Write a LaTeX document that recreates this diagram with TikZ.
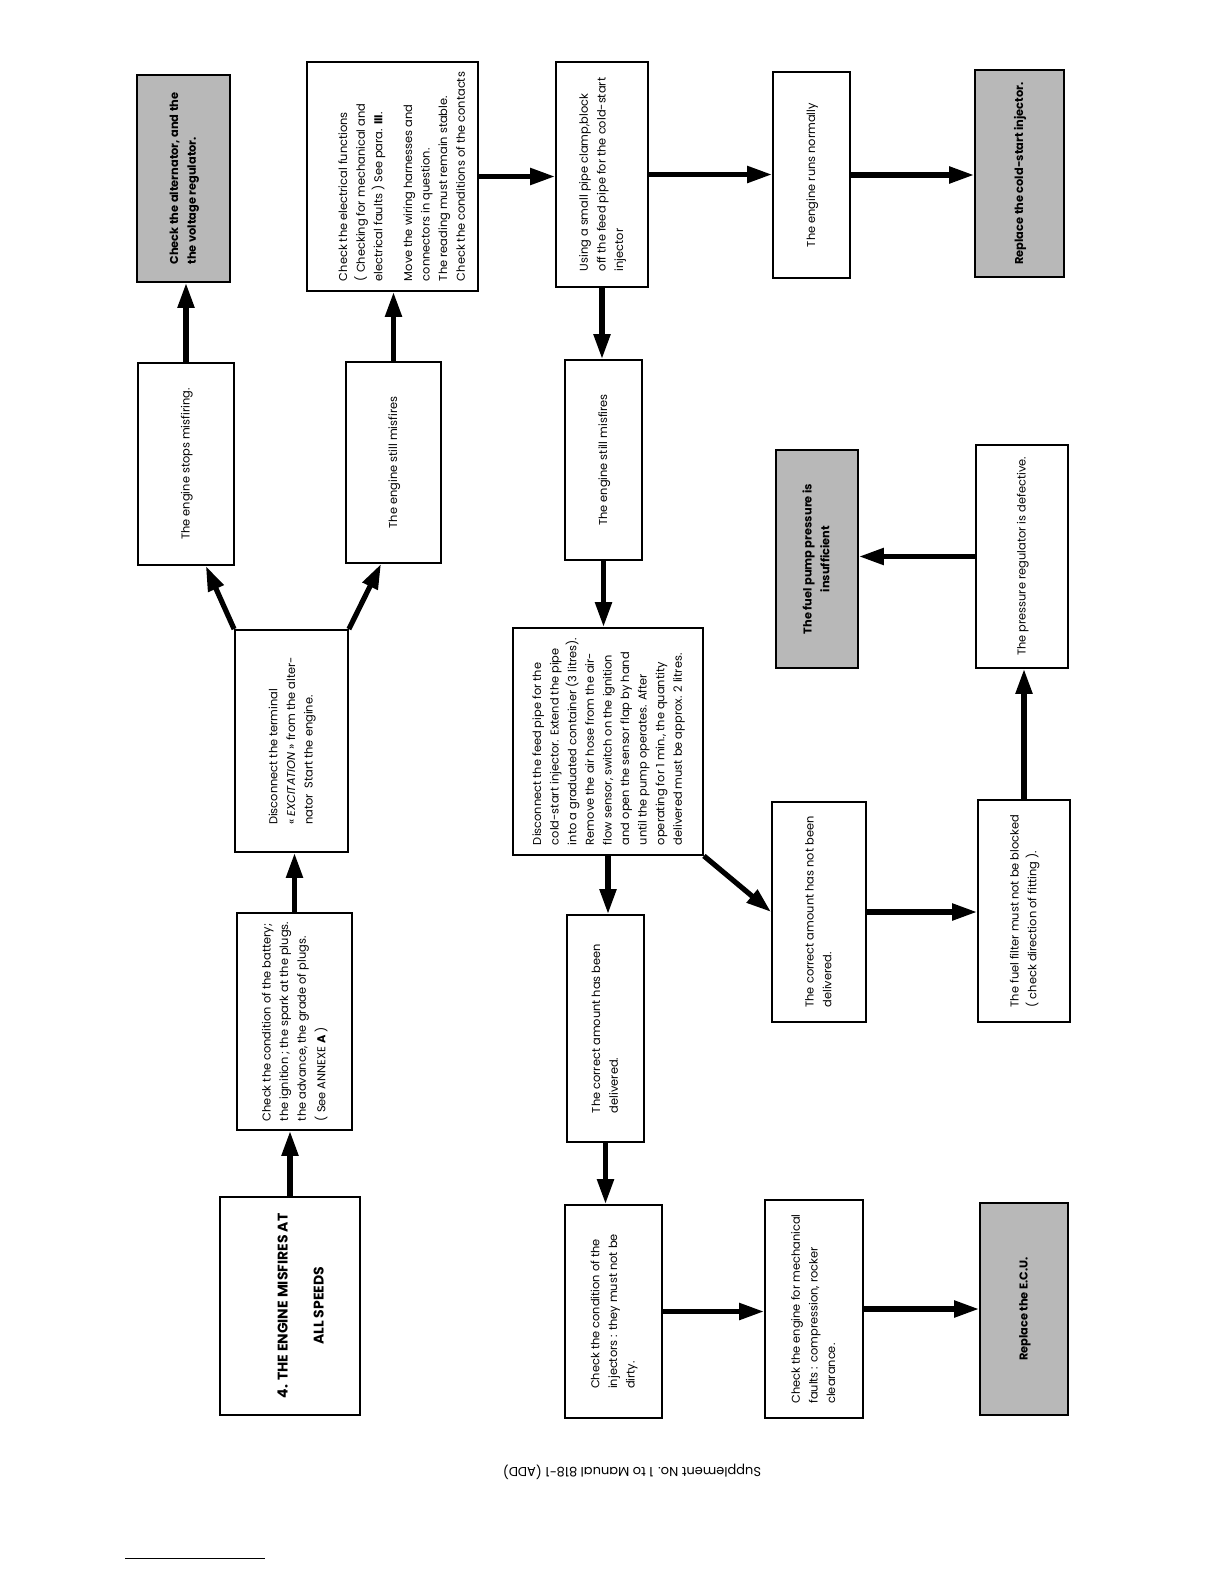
\documentclass[tikz,border=0pt]{standalone}
\usepackage{graphicx}
\usepackage{fontspec}
\setmainfont{Poppins}
\usetikzlibrary{arrows.meta, positioning}

% text that runs from bottom to top, as on the sheet
\newcommand{\vtext}[2]{\rotatebox{90}{\begin{tabular}{@{}#1@{}}#2\end{tabular}}}

\begin{document}
\begin{tikzpicture}[x=0.5pt, y=-0.5pt,
          box/.style={rectangle, draw, line width=0.9pt, inner sep=0pt, fill=white, font=\fontsize{5.7}{8.8}\selectfont},
          result/.style={box, fill=black!28, font=\fontsize{5.7}{8.8}\selectfont\bfseries},
          arrow/.style={line width=2.6pt, -{Triangle[length=12.5pt, width=8pt]}}
        ]
          \useasboundingbox (0,0) rectangle (1224,1584);

          % first column
          \node (title) [box, minimum width=70pt, minimum height=109pt, font=\fontsize{7}{9}\selectfont\bfseries] at (290,1306)
            {\hspace*{12pt}\vtext{c}{4. THE ENGINE MISFIRES AT\\[9pt] ALL SPEEDS}};
          \node (battery) [box, minimum width=57.5pt, minimum height=108.5pt] at (294.5,1021.5)
            {\vtext{l}{Check the condition of the battery;\\ the ignition ; the spark at the plugs.\\ the advance, the grade of plugs.\\[1pt] ( See ANNEXE \textbf{A} )}};
          \node (disconnect) [box, minimum width=56.5pt, minimum height=111pt] at (291.5,741)
            {\vtext{l}{Disconnect the terminal\\ « {\rmfamily\itshape EXCITATION} » from the alter-\\ nator\enspace Start the engine.}};
          \node (stops) [box, minimum width=48pt, minimum height=101pt] at (186,464)
            {\vtext{c}{The engine stops misfiring.}};
          \node (alternator) [result, minimum width=46.5pt, minimum height=103.5pt] at (183.5,178.5)
            {\vtext{l}{Check the alternator, and the\\ the voltage regulator.}};
          \node (still1) [box, minimum width=47.5pt, minimum height=100.5pt] at (393.5,462.5)
            {\vtext{c}{The engine still misfires}};
          \node (electrical) [box, minimum width=85.5pt, minimum height=114.5pt] at (392.5,176.5)
            {\hspace*{10pt}\vtext{l}{Check the electrical functions\\ ( Checking for mechanical and\\ electrical faults ) See para. \textbf{III}.\\[6pt]
              Move the wiring harnesses and\\ connectors in question.\\ The reading must remain stable.\\ Check the conditions of the contacts}};

          % second column
          \node (clamp) [box, minimum width=46pt, minimum height=112.5pt] at (602,174.5)
            {\vtext{l}{Using a small pipe clamp,block\\ off the feed pipe for the cold-start\\ injector}};
          \node (still2) [box, minimum width=38.5pt, minimum height=100pt] at (603.5,460)
            {\vtext{c}{The engine still misfires}};
          \node (feedpipe) [box, minimum width=95pt, minimum height=113.5pt] at (608,741.5)
            {\vtext{l}{Disconnect the feed pipe for the\\ cold-start injector. Extend the pipe\\ into a graduated container (3 litres).\\
              Remove the air hose from the air-\\ flow sensor, switch on the ignition\\ and open the sensor flap by hand\\
              until the pump operates. After\\ operating for 1 min., the quantity\\ delivered must be approx. 2 litres.}};
          \node (hasbeen) [box, minimum width=38.5pt, minimum height=113.5pt] at (605.5,1028.5)
            {\vtext{l}{The correct amount has been\\ delivered.}};
          \node (injectors) [box, minimum width=48.5pt, minimum height=106.5pt] at (613.5,1311.5)
            {\vtext{l}{Check the condition of the\\ injectors : they must not be\\ dirty.}};

          % third column
          \node (mechanical) [box, minimum width=49pt, minimum height=109pt] at (814,1309)
            {\vtext{l}{Check the engine for mechanical\\ faults : compression, rocker\\ clearance.}};
          \node (notbeen) [box, minimum width=47pt, minimum height=110pt] at (819,912)
            {\vtext{l}{The correct amount has not been\\ delivered.}};
          \node (fuelpump) [result, minimum width=41pt, minimum height=109pt] at (817,559)
            {\vtext{c}{The fuel pump pressure is\\ insufficient}};
          \node (runs) [box, minimum width=38.5pt, minimum height=103pt] at (811.5,175)
            {\vtext{c}{The engine runs normally}};

          % fourth column
          \node (ecu) [result, minimum width=44pt, minimum height=106pt] at (1024,1309)
            {\vtext{c}{Replace the E.C.U.}};
          \node (filter) [box, minimum width=46pt, minimum height=111pt] at (1024,911)
            {\vtext{l}{The fuel filter must not be blocked\\ ( check direction of fitting ).}};
          \node (pressure) [box, minimum width=46pt, minimum height=111.5pt] at (1022,556.5)
            {\vtext{c}{The pressure regulator is defective.}};
          \node (coldstart) [result, minimum width=44.5pt, minimum height=103.5pt] at (1019.5,173.5)
            {\vtext{c}{Replace the cold-start injector.}};

          \draw [arrow] (title.north) -- (title.north |- battery.south);
          \draw [arrow] (battery.north) -- (battery.north |- disconnect.south);
          \draw [arrow] (disconnect.north west) -- (stops.-79);
          \draw [arrow] (disconnect.north east) -- (still1.-97);
          \draw [arrow] (stops.north) -- (stops.north |- alternator.south);
          \draw [arrow] (still1.north) -- (still1.north |- electrical.south);
          \draw [arrow] (electrical.east) -- (electrical.east -| clamp.west);
          \draw [arrow] (clamp.south) -- (clamp.south |- still2.north);
          \draw [arrow] (still2.south) -- (still2.south |- feedpipe.north);
          \draw [arrow] (feedpipe.south) -- (feedpipe.south |- hasbeen.north);
          \draw [arrow] (hasbeen.south) -- (hasbeen.south |- injectors.north);
          \draw [arrow] (injectors.east) -- (injectors.east -| mechanical.west);
          \draw [arrow] (mechanical.east) -- (mechanical.east -| ecu.west);
          \draw [arrow] (feedpipe.south east) -- (notbeen.west);
          \draw [arrow] (notbeen.east) -- (notbeen.east -| filter.west);
          \draw [arrow] (filter.north) -- (filter.north |- pressure.south);
          \draw [arrow] (pressure.west) -- (pressure.west -| fuelpump.east);
          \draw [arrow] (clamp.east) -- (clamp.east -| runs.west);
          \draw [arrow] (runs.east) -- (runs.east -| coldstart.west);

          \node (footer) [rotate=180, font=\fontsize{6.5}{8}\selectfont] at (632,1472) {Supplement No. 1 to Manual 818-1 (ADD)};
          \draw [line width=0.5pt] (125,1558) -- (265,1558);
        \end{tikzpicture}
\end{document}
